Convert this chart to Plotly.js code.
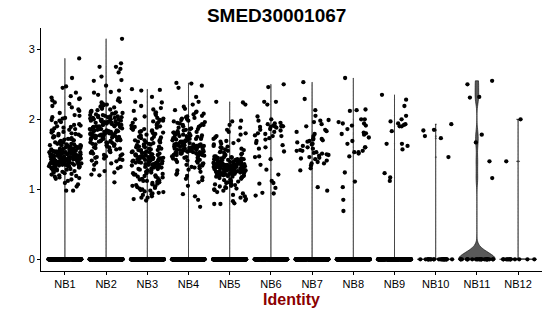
<!DOCTYPE html>
<html>
<head>
<meta charset="utf-8">
<script src="https://cdn.plot.ly/plotly-3.0.1.min.js"></script>
<style>html,body{margin:0;padding:0;background:#fff;}#chart{width:550px;height:316px;}</style>
</head>
<body>
<div id="chart"></div>
<script>
// ---- data ----
const categories = ['NB1','NB2','NB3','NB4','NB5','NB6','NB7','NB8','NB9','NB10','NB11','NB12'];
const zeroCounts = [300,300,300,300,300,300,300,300,300,25,24,12];

const nb1 = [2.87,2.59,2.47,2.45,2.38,2.33,2.31,2.30,2.29,2.22,2.27,2.24,2.19,2.17,2.14,2.12,2.09,2.06,2.05,2.03,2.02,2.01,1.99,1.98,1.96,1.95,1.93,1.92,1.91,1.90,1.89,1.88,1.87,1.86,1.85,1.84,1.83,1.82,1.81,1.80,1.79,1.79,1.78,1.77,1.76,1.76,1.75,1.74,1.73,1.72,1.72,1.71,1.70,1.70,1.69,1.68,1.67,1.67,1.66,1.65,1.65,1.64,1.64,1.63,1.63,1.62,1.62,1.61,1.61,1.60,1.60,1.60,1.59,1.59,1.58,1.58,1.58,1.57,1.57,1.57,1.56,1.56,1.56,1.55,1.55,1.55,1.55,1.54,1.54,1.54,1.54,1.53,1.53,1.53,1.53,1.52,1.52,1.52,1.52,1.51,1.51,1.51,1.51,1.50,1.50,1.50,1.50,1.50,1.49,1.49,1.49,1.49,1.48,1.48,1.48,1.48,1.48,1.47,1.47,1.47,1.47,1.46,1.46,1.46,1.46,1.46,1.45,1.45,1.45,1.45,1.45,1.44,1.44,1.44,1.44,1.44,1.43,1.43,1.43,1.43,1.43,1.42,1.42,1.42,1.42,1.42,1.41,1.41,1.41,1.41,1.41,1.40,1.40,1.40,1.40,1.40,1.39,1.39,1.39,1.39,1.38,1.38,1.38,1.38,1.37,1.37,1.37,1.37,1.36,1.36,1.36,1.36,1.35,1.35,1.35,1.34,1.34,1.34,1.33,1.33,1.33,1.32,1.32,1.31,1.31,1.30,1.30,1.29,1.29,1.28,1.28,1.27,1.26,1.26,1.25,1.24,1.23,1.22,1.21,1.20,1.19,1.18,1.17,1.16,1.15,1.14,1.12,1.09,1.07,1.04,0.98,0.98,1.47,1.52,1.44,1.39,1.58,1.35,1.50,1.42,1.63,1.46,1.33,1.55,1.41,1.48,1.37,1.53];
const nb2 = [3.15,2.80,2.75,2.75,2.72,2.67,2.61,2.56,2.55,2.48,2.41,2.39,2.38,2.35,2.30,2.27,2.25,2.24,2.22,2.21,2.20,2.19,2.18,2.17,2.16,2.15,2.14,2.13,2.12,2.11,2.10,2.10,2.09,2.08,2.08,2.07,2.06,2.06,2.05,2.05,2.04,2.04,2.03,2.03,2.02,2.02,2.01,2.01,2.00,2.00,2.00,1.99,1.99,1.98,1.98,1.97,1.97,1.96,1.96,1.95,1.95,1.94,1.94,1.93,1.93,1.92,1.92,1.91,1.91,1.90,1.90,1.89,1.89,1.88,1.88,1.87,1.87,1.86,1.86,1.85,1.85,1.84,1.84,1.83,1.83,1.82,1.82,1.81,1.81,1.80,1.80,1.79,1.79,1.78,1.78,1.77,1.77,1.76,1.76,1.75,1.75,1.74,1.74,1.73,1.73,1.72,1.72,1.71,1.71,1.70,1.70,1.69,1.69,1.68,1.68,1.67,1.67,1.66,1.65,1.64,1.64,1.63,1.62,1.61,1.60,1.60,1.59,1.58,1.57,1.56,1.55,1.54,1.53,1.52,1.51,1.50,1.49,1.48,1.47,1.46,1.45,1.44,1.43,1.42,1.41,1.40,1.38,1.37,1.35,1.32,1.30,1.28,1.26,1.24,1.21,1.20,1.10,1.84,1.92,1.77,1.70,1.88,1.97,1.81,1.74,2.03,1.86,1.79,1.95,1.73,1.90,1.83,1.66,1.99,1.76];
const nb3 = [2.43,2.42,2.41,2.32,2.25,2.24,2.19,2.16,2.14,2.12,2.10,2.08,2.06,2.04,2.02,2.01,2.00,1.99,1.98,1.97,1.96,1.95,1.94,1.92,1.91,1.90,1.89,1.88,1.87,1.86,1.85,1.84,1.83,1.82,1.81,1.80,1.79,1.78,1.77,1.76,1.75,1.74,1.73,1.72,1.71,1.70,1.69,1.68,1.67,1.66,1.65,1.64,1.63,1.62,1.61,1.60,1.60,1.59,1.58,1.57,1.56,1.56,1.55,1.54,1.53,1.53,1.52,1.51,1.50,1.50,1.49,1.48,1.48,1.47,1.47,1.46,1.46,1.45,1.45,1.44,1.44,1.43,1.43,1.42,1.42,1.41,1.41,1.40,1.40,1.39,1.39,1.38,1.38,1.37,1.37,1.36,1.36,1.35,1.35,1.34,1.33,1.33,1.32,1.31,1.30,1.30,1.29,1.28,1.27,1.26,1.25,1.24,1.23,1.22,1.21,1.20,1.19,1.18,1.17,1.16,1.15,1.14,1.13,1.12,1.11,1.10,1.09,1.08,1.07,1.06,1.05,1.04,1.03,1.02,1.01,1.00,0.99,0.98,0.97,0.96,0.95,0.94,0.93,0.92,0.90,0.88,0.88,0.86,0.84,1.45,1.52,1.38,1.61,1.27,1.49,1.33,1.70,1.42,1.56,1.18,1.64,1.36,1.47,1.23,1.58,1.41,1.75,1.31,1.54,1.12,1.44,1.67,1.29,1.50,1.39,1.83,1.21,1.46,1.35];
const nb4 = [2.52,2.51,2.48,2.45,2.32,2.25,2.21,2.18,2.15,2.13,2.11,2.10,2.08,2.07,2.05,2.04,2.03,2.02,2.01,2.00,1.99,1.98,1.97,1.96,1.95,1.94,1.93,1.92,1.91,1.90,1.89,1.88,1.87,1.86,1.85,1.84,1.83,1.82,1.81,1.80,1.80,1.79,1.78,1.78,1.77,1.76,1.76,1.75,1.74,1.74,1.73,1.72,1.72,1.71,1.70,1.70,1.69,1.68,1.68,1.67,1.66,1.66,1.65,1.65,1.64,1.64,1.63,1.63,1.62,1.62,1.61,1.61,1.60,1.60,1.59,1.59,1.58,1.58,1.57,1.57,1.56,1.56,1.55,1.55,1.54,1.54,1.53,1.53,1.52,1.52,1.51,1.51,1.50,1.50,1.49,1.49,1.48,1.48,1.47,1.46,1.45,1.44,1.43,1.42,1.41,1.40,1.39,1.38,1.37,1.36,1.35,1.34,1.33,1.32,1.31,1.30,1.28,1.27,1.25,1.23,1.21,1.19,1.17,1.15,1.13,1.10,1.05,0.93,0.90,0.85,0.75,1.62,1.55,1.70,1.58,1.66,1.49,1.74,1.60,1.53,1.81,1.64,1.57,1.45,1.68,1.59,1.77,1.51,1.63,1.86,1.56,1.42,1.72,1.61,1.54,1.92];
const nb5 = [2.25,2.24,2.21,1.98,1.97,1.92,1.88,1.85,1.82,1.80,1.78,1.76,1.74,1.72,1.70,1.69,1.68,1.66,1.65,1.64,1.62,1.61,1.60,1.59,1.58,1.57,1.56,1.55,1.54,1.53,1.52,1.51,1.50,1.49,1.48,1.47,1.47,1.46,1.46,1.45,1.45,1.44,1.44,1.43,1.43,1.43,1.42,1.42,1.42,1.41,1.41,1.41,1.40,1.40,1.40,1.40,1.39,1.39,1.39,1.39,1.38,1.38,1.38,1.38,1.37,1.37,1.37,1.37,1.36,1.36,1.36,1.36,1.35,1.35,1.35,1.35,1.34,1.34,1.34,1.34,1.33,1.33,1.33,1.33,1.32,1.32,1.32,1.32,1.31,1.31,1.31,1.31,1.30,1.30,1.30,1.30,1.29,1.29,1.29,1.29,1.28,1.28,1.28,1.28,1.27,1.27,1.27,1.27,1.26,1.26,1.26,1.26,1.25,1.25,1.25,1.25,1.24,1.24,1.24,1.23,1.23,1.23,1.22,1.22,1.22,1.21,1.21,1.20,1.20,1.19,1.19,1.18,1.18,1.17,1.17,1.16,1.15,1.14,1.13,1.12,1.11,1.10,1.09,1.08,1.07,1.06,1.05,1.04,1.03,1.02,1.01,1.00,0.99,0.98,0.96,0.94,0.92,0.90,0.88,0.86,0.84,0.83,0.80,0.79,0.79,1.33,1.28,1.36,1.25,1.31,1.39,1.22,1.34,1.29,1.42,1.27,1.19,1.35,1.30,1.24,1.38,1.32,1.26,1.21,1.37];
const nb6 = [2.50,2.46,2.25,2.21,2.25,2.04,2.00,1.88,1.85,1.90,1.90,1.91,1.94,1.95,1.89,1.91,1.84,1.90,1.89,1.82,1.79,1.76,1.76,1.77,1.73,1.63,1.60,1.69,1.66,1.54,1.46,1.43,1.47,1.28,1.21,1.08,1.09,1.02,0.94,0.91,0.95,1.86,1.93,1.80,1.98,1.71,1.58,1.35,1.12];
const nb7 = [2.53,2.29,2.13,2.05,1.99,1.98,1.96,1.93,1.90,1.83,1.82,1.79,1.73,1.72,1.68,1.69,1.71,1.70,1.67,1.65,1.62,1.55,1.53,1.56,1.50,1.48,1.46,1.55,1.49,1.51,1.44,1.45,1.43,1.39,1.41,1.37,1.30,1.37,1.27,1.03,0.98,1.58,1.60,1.64,1.52,1.85,1.76,1.34];
const nb8 = [2.59,2.13,2.12,2.14,1.94,2.00,2.00,1.81,1.74,1.69,1.65,1.96,1.94,1.91,1.86,1.80,1.79,1.78,1.91,1.60,1.55,1.60,1.51,1.53,1.47,1.53,1.24,1.11,1.03,0.85,0.69];
const nb9 = [2.35,2.28,2.19,2.05,1.97,1.94,1.90,1.90,1.93,2.00,1.92,1.83,1.65,1.57,1.62,1.65,1.17,1.23,1.12];
const nb10 = [1.93,1.85,1.84,1.76,1.73,1.46];
const nb11 = [2.55,2.50,2.32,2.31,1.78,1.67,1.40,1.16];
const nb12 = [2.00,1.40];
const nonzero = [nb1,nb2,nb3,nb4,nb5,nb6,nb7,nb8,nb9,nb10,nb11,nb12];

// ---- build traces ----
function hash01(i, g) {
  const s = Math.sin(i * 12.9898 + g * 78.233) * 43758.5453;
  return s - Math.floor(s);
}
const traces = [];
const allX = [], allY = [];
categories.forEach((c, g) => {
  const zeros = new Array(zeroCounts[g]).fill(0);
  const vals = zeros.concat(nonzero[g]);
  traces.push({
    type: 'violin', x0: g, y: vals, name: c,
    width: 0.9, scalemode: 'width', spanmode: 'hard',
    bandwidth: c === 'NB11' ? 0.1 : 0.004,
    fillcolor: '#595959', line: {color: '#000000', width: 0.6},
    points: false, box: {visible: false}, meanline: {visible: false},
    hoverinfo: 'skip', showlegend: false
  });
  vals.forEach((v, i) => {
    allX.push(g + (hash01(i + 1, g + 1) - 0.5) * 0.8);
    allY.push(v);
  });
});
traces.push({
  type: 'scatter', mode: 'markers', x: allX, y: allY,
  marker: {color: '#000000', size: 4.3, line: {width: 0}},
  hoverinfo: 'skip', showlegend: false
});

const fontFam = 'Liberation Sans, Arial, sans-serif';
const layout = {
  width: 550, height: 316,
  margin: {l: 41, r: 8, t: 28, b: 45},
  paper_bgcolor: '#ffffff', plot_bgcolor: '#ffffff',
  showlegend: false,
  title: {
    text: 'SMED30001067', x: 0.503, xref: 'container', xanchor: 'center',
    y: 0.9516, yref: 'container', yanchor: 'middle',
    font: {family: fontFam, size: 19, color: '#000000', weight: 'bold'}
  },
  xaxis: {
    type: 'linear', range: [-0.58, 11.58],
    tickvals: categories.map((c, i) => i), ticktext: categories,
    showline: true, linecolor: '#000000', linewidth: 1,
    ticks: 'outside', ticklen: 3, tickcolor: '#000000', tickwidth: 1,
    showgrid: false, zeroline: false,
    tickfont: {family: fontFam, size: 11, color: '#000000'},
    title: {text: 'Identity', standoff: 4, font: {family: fontFam, size: 16, color: '#8B0000', weight: 'bold'}}
  },
  yaxis: {
    range: [-0.167, 3.304], tickvals: [0, 1, 2, 3],
    showline: true, linecolor: '#000000', linewidth: 1,
    ticks: 'outside', ticklen: 3, tickcolor: '#000000', tickwidth: 1,
    showgrid: false, zeroline: false,
    tickfont: {family: fontFam, size: 11, color: '#000000'}
  }
};
Plotly.newPlot('chart', traces, layout, {staticPlot: true, displayModeBar: false});
</script>
</body>
</html>
